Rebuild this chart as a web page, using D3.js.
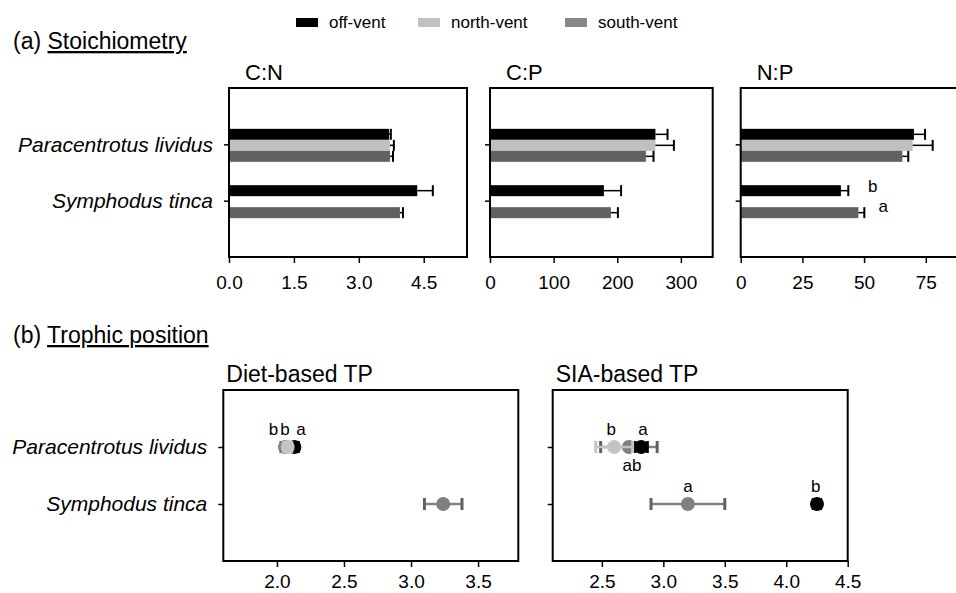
<!DOCTYPE html>
<meta charset="utf-8">
<style>
body { margin: 0; background: #fff; }
svg text { font-family: "Liberation Sans", Arial, sans-serif; fill: #000; }
.frame { fill: none; stroke: #000; stroke-width: 2px; }
.axis path { display: none; }
.axis line { stroke: #000; stroke-width: 1.5px; }
.axis text { font-size: 19px; font-family: "Liberation Sans", Arial, sans-serif; }
.cat text { font-size: 21px; font-style: italic; }
</style>
<body>
<script src="https://d3js.org/d3.v7.min.js"></script>
<script>

// categories and groups
var species = ["Paracentrotus lividus", "Symphodus tinca"];
var sites = ["off-vent", "north-vent", "south-vent"];

// stoichiometry: mean and SE, rows = species, cols = sites (null = not sampled)
var cnMean = [[3.70, 3.72, 3.72], [4.35, null, 3.95]];
var cnSE   = [[0.04, 0.09, 0.07], [0.36, null, 0.07]];
var cpMean = [[260, 260, 245], [179, null, 190]];
var cpSE   = [[19, 29, 12], [27, null, 11]];
var npMean = [[70.2, 69.7, 65.5], [40.6, null, 47.7]];
var npSE   = [[4.5, 8.1, 2.4], [3.0, null, 2.4]];

// trophic position: mean and SE
var dietMean = [[2.13, 2.08, 2.06], [null, null, 3.24]];
var dietSE   = [[0.03, 0.03, 0.03], [null, null, 0.14]];
var siaMean  = [[2.82, 2.60, 2.72], [4.25, null, 3.20]];
var siaSE    = [[0.05, 0.15, 0.23], [0.03, null, 0.30]];

// tick labels
var cnTicks = [0, 1.5, 3.0, 4.5];
var cpTicks = [0, 100, 200, 300];
var npTicks = [0, 25, 50, 75];
var dietTicks = [2.0, 2.5, 3.0, 3.5];
var siaTicks = [2.5, 3.0, 3.5, 4.0, 4.5];

// significance letters (species index, value where the letter sits, letter, above/below)
var npLetters = [{sp: 1, site: 0, at: 53.5, text: "b"}, {sp: 1, site: 2, at: 57.8, text: "a"}];
var dietLetters = [
  {sp: 0, at: 1.975, text: "b", pos: "above"},
  {sp: 0, at: 2.06, text: "b", pos: "above"},
  {sp: 0, at: 2.18, text: "a", pos: "above"}
];
var siaLetters = [
  {sp: 0, at: 2.577, text: "b", pos: "above"},
  {sp: 0, at: 2.835, text: "a", pos: "above"},
  {sp: 0, at: 2.745, text: "ab", pos: "below"},
  {sp: 1, at: 3.20, text: "a", pos: "above"},
  {sp: 1, at: 4.24, text: "b", pos: "above"}
];

var barColors = ["#000000", "#c0c0c0", "#616161"];
var dotColors = ["#000000", "#c4c4c4", "#808080"];
var legendColors = ["#000000", "#c0c0c0", "#888888"];

var svg = d3.select("body").append("svg")
    .attr("width", 956)
    .attr("height", 593);

// legend
var legendX = [296, 418, 565];
sites.forEach(function(s, i) {
  svg.append("rect")
      .attr("x", legendX[i]).attr("y", 18)
      .attr("width", 22).attr("height", 9)
      .attr("fill", legendColors[i]);
  svg.append("text")
      .attr("x", legendX[i] + 33).attr("y", 28)
      .style("font-size", "17px")
      .text(s);
});

// section titles
function sectionTitle(y, pre, word) {
  var t = svg.append("text").attr("x", 13).attr("y", y).style("font-size", "23px");
  t.append("tspan").text(pre);
  t.append("tspan").style("text-decoration", "underline").text(word);
}
sectionTitle(49, "(a) ", "Stoichiometry");
sectionTitle(343, "(b) ", "Trophic position");

// ---------- (a) bar panels ----------
var topY0 = 88, topY1 = 257;
var yTop = d3.scalePoint().domain(species).range([topY0, topY1]).padding(1);
var inner = d3.scaleBand().domain(sites).range([-16.5, 16.5]);

var barPanels = [
  {title: "C:N", x0: 229, x1: 467, domain: [0, 5.5], ticks: cnTicks, fmt: d3.format(".1f"), mean: cnMean, se: cnSE, labels: true},
  {title: "C:P", x0: 490, x1: 712.7, domain: [0, 350], ticks: cpTicks, fmt: d3.format("d"), mean: cpMean, se: cpSE, labels: false},
  {title: "N:P", x0: 740.7, x1: 962.8, domain: [0, 90], ticks: npTicks, fmt: d3.format("d"), mean: npMean, se: npSE, labels: false, letters: npLetters}
];

barPanels.forEach(function(p) {
  var x = d3.scaleLinear().domain(p.domain).range([p.x0, p.x1]);
  var g = svg.append("g");

  g.append("text")
      .attr("x", p.x0 + 16).attr("y", 80)
      .style("font-size", "22px")
      .text(p.title);

  species.forEach(function(sp, i) {
    sites.forEach(function(site, j) {
      var m = p.mean[i][j];
      if (m == null) return;
      var yb = yTop(sp) + 1 + inner(site);
      var h = inner.bandwidth();
      g.append("rect")
          .attr("x", x(0)).attr("y", yb)
          .attr("width", x(m) - x(0)).attr("height", h)
          .attr("fill", barColors[j]);
      var xe = x(m + p.se[i][j]);
      g.append("line")
          .attr("x1", x(m)).attr("x2", xe)
          .attr("y1", yb + h / 2).attr("y2", yb + h / 2)
          .attr("stroke", "#000").attr("stroke-width", 1.5);
      g.append("line")
          .attr("x1", xe).attr("x2", xe)
          .attr("y1", yb).attr("y2", yb + h)
          .attr("stroke", "#000").attr("stroke-width", 2);
    });
  });

  if (p.letters) {
    p.letters.forEach(function(l) {
      var yb = yTop(species[l.sp]) + 1 + inner(sites[l.site]);
      g.append("text")
          .attr("x", x(l.at)).attr("y", yb + (l.site === 0 ? 7 : 5))
          .attr("text-anchor", "middle")
          .style("font-size", "17px")
          .text(l.text);
    });
  }

  g.append("rect").attr("class", "frame")
      .attr("x", p.x0).attr("y", topY0)
      .attr("width", p.x1 - p.x0).attr("height", topY1 - topY0);

  g.append("g").attr("class", "axis")
      .attr("transform", "translate(0," + topY1 + ")")
      .call(d3.axisBottom(x).tickValues(p.ticks).tickFormat(p.fmt).tickSize(6).tickPadding(13));

  g.append("g").attr("class", "axis cat")
      .attr("transform", "translate(" + p.x0 + ",0)")
      .call(d3.axisLeft(yTop).tickSize(5).tickPadding(11).tickFormat(p.labels ? null : ""));
});

// ---------- (b) dot panels ----------
var botY0 = 390, botY1 = 561;
var yBot = d3.scalePoint().domain(species).range([botY0, botY1]).padding(1);
var drawOrder = [2, 0, 1];

var dotPanels = [
  {title: "Diet-based TP", x0: 223.3, x1: 518.3, domain: [1.6, 3.8], ticks: dietTicks, mean: dietMean, se: dietSE, letters: dietLetters, labels: true},
  {title: "SIA-based TP", x0: 552.7, x1: 847.7, domain: [2.1, 4.5], ticks: siaTicks, mean: siaMean, se: siaSE, letters: siaLetters, labels: false}
];

dotPanels.forEach(function(p) {
  var x = d3.scaleLinear().domain(p.domain).range([p.x0, p.x1]);
  var g = svg.append("g");

  g.append("text")
      .attr("x", p.x0 + 3).attr("y", 382)
      .style("font-size", "23px")
      .text(p.title);

  species.forEach(function(sp, i) {
    var cy = yBot(sp);
    drawOrder.forEach(function(j) {
      var m = p.mean[i][j];
      if (m == null) return;
      var s = p.se[i][j];
      var col = dotColors[j];
      g.append("line")
          .attr("x1", x(m - s)).attr("x2", x(m + s))
          .attr("y1", cy).attr("y2", cy)
          .attr("stroke", col).attr("stroke-width", 2.5);
      [m - s, m + s].forEach(function(v) {
        g.append("line")
            .attr("x1", x(v)).attr("x2", x(v))
            .attr("y1", cy - 6).attr("y2", cy + 6)
            .attr("stroke", j === 2 ? "#606060" : col).attr("stroke-width", 3);
      });
      g.append("circle")
          .attr("cx", x(m)).attr("cy", cy).attr("r", 7)
          .attr("fill", col);
    });
  });

  p.letters.forEach(function(l) {
    var cy = yBot(species[l.sp]);
    g.append("text")
        .attr("x", x(l.at))
        .attr("y", l.pos === "above" ? cy - 12 : cy + 24)
        .attr("text-anchor", "middle")
        .style("font-size", "17px")
        .text(l.text);
  });

  g.append("rect").attr("class", "frame")
      .attr("x", p.x0).attr("y", botY0)
      .attr("width", p.x1 - p.x0).attr("height", botY1 - botY0);

  g.append("g").attr("class", "axis")
      .attr("transform", "translate(0," + botY1 + ")")
      .call(d3.axisBottom(x).tickValues(p.ticks).tickFormat(d3.format(".1f")).tickSize(6).tickPadding(8));

  g.append("g").attr("class", "axis cat")
      .attr("transform", "translate(" + p.x0 + ",0)")
      .call(d3.axisLeft(yBot).tickSize(5).tickPadding(11).tickFormat(p.labels ? null : ""));
});

</script>
</body>
